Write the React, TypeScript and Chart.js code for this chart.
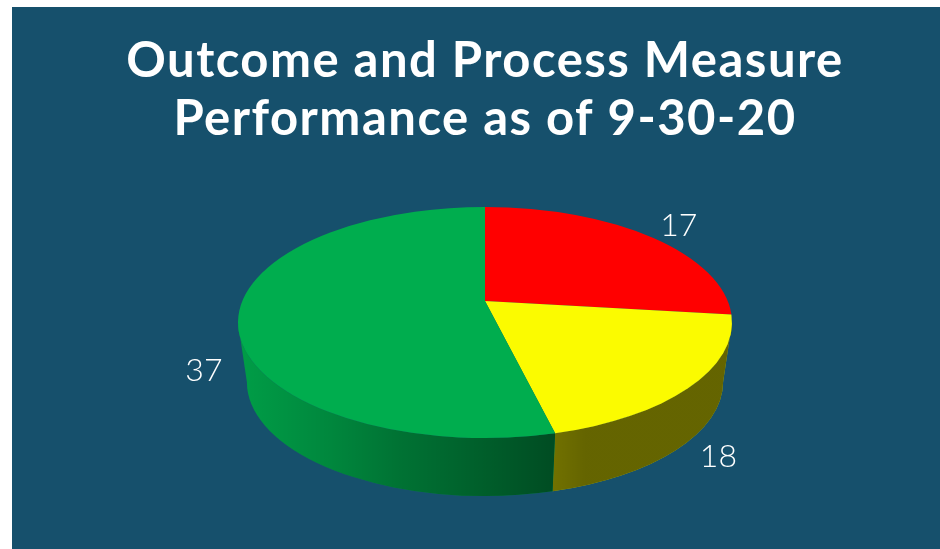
import React, { useEffect, useRef } from "react";
import { Chart, registerables } from "chart.js";

Chart.register(...registerables);

const categories = ["Red", "Yellow", "Green"];
const values = [17, 18, 37];
const sliceColors = ["#FF0000", "#FBFB00", "#00AD4E"];
const titleLines = ["Outcome and Process Measure", "Performance as of 9-30-20"];

const PANEL = "#16506C";
const DEG = Math.PI / 180;

// Perspective of the tilted pie, relative to the library's arc geometry.
const SQUASH = 0.4676; // top ellipse height / width
const APEX_SHIFT = -21.5; // apex sits above the ellipse centre
const DEPTH = 59.5; // centre of base ellipse below centre of top ellipse
const BASE_RX = 0.964;
const BASE_SQUASH = 0.479;
const WARP_IN = [0, 85, 175, 360];
const WARP_OUT = [0, 86, 163.5, 360];

// Library angle (radians, -90deg = top) -> angle on the tilted ellipse.
function warp(angle: number) {
  const phi = (angle + Math.PI / 2) / DEG;
  for (let i = 0; i < WARP_IN.length - 1; i++) {
    if (phi <= WARP_IN[i + 1] + 1e-6) {
      const t = (phi - WARP_IN[i]) / (WARP_IN[i + 1] - WARP_IN[i]);
      return (WARP_OUT[i] + t * (WARP_OUT[i + 1] - WARP_OUT[i]) - 90) * DEG;
    }
  }
  return angle;
}

const shadeStops: number[][][] = [
  [],
  [[553, 0.55], [585, 0.6], [724, 0.6]],
  [[246, 0.1], [330, 0.22], [400, 0.34], [480, 0.45], [555, 0.56]],
];

const pie3d = {
  id: "pie3d",
  beforeDraw(chart: any) {
    (chart.ctx as any).letterSpacing = "1.5px";
  },
  beforeDatasetDraw(chart: any, args: any) {
    const ctx = chart.ctx;
    (ctx as any).letterSpacing = "0px";
    const arcs = args.meta.data;
    // sides
    arcs.forEach((arc: any, i: number) => {
      const r = arc.outerRadius;
      const a0 = Math.max(warp(arc.startAngle), 0);
      const a1 = Math.min(warp(arc.endAngle), Math.PI);
      if (a1 <= a0) return;
      const path = () => {
        ctx.beginPath();
        ctx.ellipse(arc.x, arc.y, r, r * SQUASH, 0, a0, a1);
        ctx.ellipse(arc.x, arc.y + DEPTH, r * BASE_RX, r * BASE_RX * BASE_SQUASH, 0, a1, a0, true);
        ctx.closePath();
      };
      path();
      ctx.fillStyle = sliceColors[i];
      ctx.fill();
      const x0 = shadeStops[i][0][0];
      const x1 = shadeStops[i][shadeStops[i].length - 1][0];
      const g = ctx.createLinearGradient(x0, 0, x1, 0);
      shadeStops[i].forEach(([x, alpha]) => g.addColorStop((x - x0) / (x1 - x0), `rgba(0,0,0,${alpha})`));
      path();
      ctx.fillStyle = g;
      ctx.fill();
    });
    // top faces
    arcs.forEach((arc: any, i: number) => {
      const r = arc.outerRadius;
      ctx.beginPath();
      ctx.moveTo(arc.x, arc.y + APEX_SHIFT);
      ctx.ellipse(arc.x, arc.y, r, r * SQUASH, 0, warp(arc.startAngle), warp(arc.endAngle));
      ctx.closePath();
      ctx.fillStyle = sliceColors[i];
      ctx.fill();
    });
    // value labels
    ctx.save();
    ctx.fillStyle = "#FFFFFF";
    ctx.font = "300 32px Lato, sans-serif";
    ctx.textAlign = "center";
    ctx.textBaseline = "middle";
    arcs.forEach((arc: any, i: number) => {
      const mid = (warp(arc.startAngle) + warp(arc.endAngle)) / 2;
      const r = arc.outerRadius * 1.15;
      const s = Math.sin(mid);
      const drop = s > 0 ? DEPTH * Math.min(1, 1.3 * Math.sqrt(s)) : 0;
      ctx.fillText(String(values[i]), arc.x + r * Math.cos(mid), arc.y + r * SQUASH * s + drop);
    });
    ctx.restore();
    return false;
  },
};

export default function App() {
  const ref = useRef<HTMLCanvasElement>(null);
  useEffect(() => {
    document.body.style.margin = "0";
    const chart = new Chart(ref.current!, {
      type: "pie",
      data: {
        labels: categories,
        datasets: [{ data: values, backgroundColor: sliceColors, borderWidth: 0, radius: 247 }],
      },
      options: {
        responsive: false,
        animation: false,
        layout: { padding: { left: 30, bottom: 54 } },
        plugins: {
          legend: { display: false },
          tooltip: { enabled: false },
          title: {
            display: true,
            text: titleLines,
            color: "#FFFFFF",
            font: { family: "Lato, sans-serif", weight: "bold", size: 49, lineHeight: 1.184 },
            padding: { top: 32, bottom: 2 },
          },
        },
      },
      plugins: [pie3d],
    } as any);
    return () => chart.destroy();
  }, []);
  return (
    <div style={{ position: "absolute", left: 0, top: 0, width: 940, height: 549, background: "#fff", overflow: "hidden" }}>
      <div style={{ position: "absolute", left: 12, top: 7, width: 928, height: 542, background: PANEL }} />
      <canvas ref={ref} width={940} height={549} style={{ position: "absolute", left: 0, top: 0, display: "block" }} />
    </div>
  );
}
